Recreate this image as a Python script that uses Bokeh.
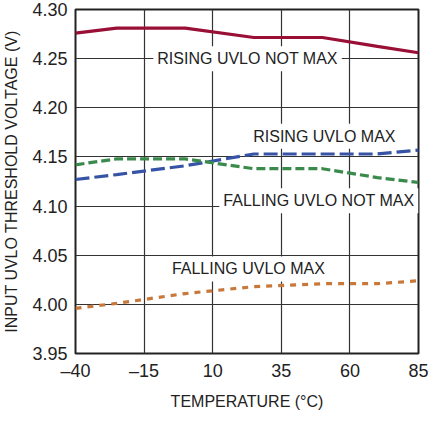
from bokeh.plotting import figure
from bokeh.models import Label, FixedTicker, Range1d
from bokeh.embed import file_html
from bokeh.resources import INLINE

temps = [-40, -25, 0, 25, 50, 70, 85]
rising_not_max = [4.276, 4.281, 4.281, 4.2715, 4.2715, 4.2625, 4.256]
rising_max = [4.127, 4.132, 4.141, 4.153, 4.153, 4.153, 4.157]
falling_not_max = [4.142, 4.148, 4.148, 4.138, 4.138, 4.129, 4.124]
falling_max = [3.996, 4.001, 4.011, 4.018, 4.021, 4.021, 4.024]

x_ticks = [-40, -15, 10, 35, 60, 85]
x_tick_labels = ["–40", "–15", "10", "35", "60", "85"]
y_ticks = [3.95, 4.00, 4.05, 4.10, 4.15, 4.20, 4.25, 4.30]
y_tick_labels = ["3.95", "4.00", "4.05", "4.10", "4.15", "4.20", "4.25", "4.30"]

FONT = "Liberation Sans"

p = figure(frame_width=343, frame_height=344, output_backend="svg", toolbar_location=None,
           x_range=Range1d(-40, 85), y_range=Range1d(3.95, 4.30),
           min_border_left=69, min_border_right=11, min_border_top=9, min_border_bottom=52)

p.outline_line_color = "#222222"
p.outline_line_width = 2
p.background_fill_color = "white"

for ax in (p.xaxis[0], p.yaxis[0]):
    ax.axis_line_color = None
    ax.major_tick_line_color = None
    ax.minor_tick_line_color = None
    ax.major_tick_out = 0
    ax.major_tick_in = 0
    ax.major_label_text_font = FONT
    ax.major_label_text_font_size = "18px"
    ax.major_label_text_color = "#222222"
    ax.axis_label_text_font = FONT
    ax.axis_label_text_font_size = "16px"
    ax.axis_label_text_font_style = "normal"
    ax.axis_label_text_color = "#222222"

p.xaxis.ticker = FixedTicker(ticks=x_ticks)
p.xaxis.major_label_overrides = {t: l for t, l in zip(x_ticks, x_tick_labels)}
p.yaxis.ticker = FixedTicker(ticks=y_ticks)
p.yaxis.major_label_overrides = {t: l for t, l in zip(y_ticks, y_tick_labels)}
p.xaxis.axis_label = "TEMPERATURE (°C)"
p.yaxis.axis_label = "INPUT UVLO THRESHOLD VOLTAGE (V)"
p.xaxis.major_label_standoff = 7
p.yaxis.major_label_standoff = 8
p.xaxis.axis_label_standoff = 9
p.yaxis.axis_label_standoff = 9

p.xgrid.grid_line_color = "#333333"
p.ygrid.grid_line_color = "#333333"
p.xgrid.grid_line_width = 1.2
p.ygrid.grid_line_width = 1.2

p.line(temps, rising_not_max, line_color="#990f35", line_width=3.2)
p.line(temps, rising_max, line_color="#3653a6", line_width=3.2, line_dash="14 5")
p.line(temps, falling_not_max, line_color="#3a8a4c", line_width=3.2, line_dash="9 4")
p.line(temps, falling_max, line_color="#c8783a", line_width=3.2, line_dash="6 6")

labels = [
    ("RISING UVLO NOT MAX", 22.7, 4.25),
    ("RISING UVLO MAX", 50.7, 4.171),
    ("FALLING UVLO NOT MAX", 48.7, 4.1055),
    ("FALLING UVLO MAX", 23.0, 4.036),
]
for txt, lx, ly in labels:
    p.add_layout(Label(x=lx, y=ly, text=txt, text_align="center", text_baseline="middle",
                       text_font=FONT, text_font_size="16px", text_color="#222222",
                       background_fill_color="white", padding=4))

open("out.html", "w").write(file_html(p, INLINE))
